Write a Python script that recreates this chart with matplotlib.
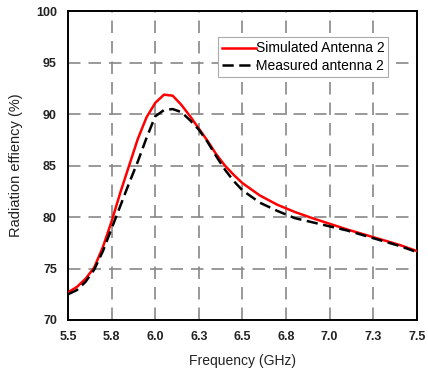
import matplotlib
matplotlib.use('Agg')
import matplotlib.pyplot as plt

# frequency points (GHz) and efficiency (%)
freq = [5.50, 5.55, 5.60, 5.65, 5.70, 5.75, 5.80, 5.85, 5.90, 5.95, 6.00,
        6.05, 6.10, 6.15, 6.20, 6.25, 6.30, 6.35, 6.40, 6.45, 6.50, 6.60,
        6.70, 6.80, 6.90, 7.00, 7.10, 7.20, 7.30, 7.40, 7.50]
simulated = [72.7, 73.2, 74.0, 75.1, 77.1, 79.6, 82.4, 85.0, 87.6, 89.7, 91.1,
             91.9, 91.8, 90.9, 89.8, 88.6, 87.4, 86.1, 85.0, 84.1, 83.3, 82.1,
             81.2, 80.5, 79.9, 79.35, 78.8, 78.3, 77.8, 77.3, 76.7]
measured = [72.5, 72.9, 73.7, 74.9, 76.7, 78.9, 81.1, 83.3, 85.4, 87.7, 89.8,
            90.4, 90.5, 90.2, 89.4, 88.5, 87.3, 85.9, 84.6, 83.5, 82.6, 81.4,
            80.6, 79.9, 79.5, 79.1, 78.7, 78.2, 77.7, 77.2, 76.6]

x_ticks = [5.5, 5.75, 6.0, 6.25, 6.5, 6.75, 7.0, 7.25, 7.5]
x_labels = ['5.5', '5.8', '6.0', '6.3', '6.5', '6.8', '7.0', '7.3', '7.5']
y_ticks = [70, 75, 80, 85, 90, 95, 100]

plt.rcParams['font.family'] = ['Liberation Sans', 'DejaVu Sans']

fig = plt.figure(figsize=(4.28, 3.71), dpi=100)
ax = fig.add_axes([0.159, 0.1375, 0.815, 0.832])

ax.plot(freq, simulated, color='#ff0000', lw=1.8, label='Simulated Antenna 2', zorder=3)
ax.plot(freq, measured, color='black', lw=1.8, ls=(0, (4.5, 2.2)), label='Measured antenna 2', zorder=3)

ax.set_xlim(5.5, 7.5)
ax.set_ylim(70, 100)
ax.set_xticks(x_ticks)
ax.set_xticklabels(x_labels)
ax.set_yticks(y_ticks)
ax.tick_params(length=0, pad=8, labelsize=9)
for lbl in ax.get_xticklabels() + ax.get_yticklabels():
    lbl.set_fontweight('bold')
    lbl.set_color('#222222')

ax.grid(True, color='#888888', lw=1.2, ls=(0, (7.5, 4.8)))
for s in ax.spines.values():
    s.set_linewidth(1.4)

ax.set_xlabel('Frequency (GHz)', fontsize=10, color='#222222', labelpad=8)
ax.set_ylabel('Radiation effiency (%)', fontsize=10.5, color='#222222', labelpad=9)

leg = ax.legend(loc='upper left', bbox_to_anchor=(0.43, 0.916), fontsize=10,
                handlelength=2.4, handletextpad=0.0, borderpad=0.3,
                labelspacing=0.25, fancybox=False, framealpha=1, borderaxespad=0)
leg.get_frame().set_edgecolor('#aaaaaa')
leg.get_frame().set_linewidth(0.8)

fig.savefig('out.png', dpi=100)
